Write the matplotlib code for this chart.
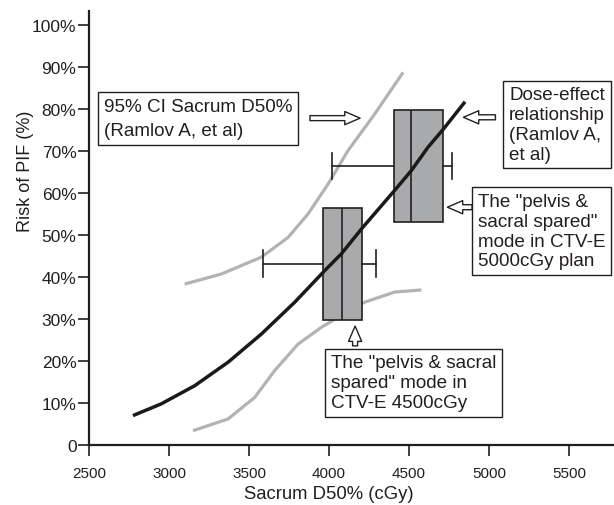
import matplotlib
matplotlib.use("Agg")
import matplotlib.pyplot as plt

plt.rcParams['font.family'] = ['Liberation Sans', 'DejaVu Sans']

# Dose-effect curve (Ramlov A, et al)
dose_x = [2775, 2952, 3160, 3369, 3577, 3786, 3973, 4077, 4202, 4410, 4514, 4619, 4715, 4850]
dose_y = [7.0, 9.8, 14.1, 19.7, 26.4, 34.0, 41.5, 45.5, 51.4, 60.6, 65.3, 70.9, 75.2, 81.7]

# 95% CI upper bound
ci_hi_x = [3098, 3327, 3577, 3744, 3869, 3994, 4119, 4286, 4463]
ci_hi_y = [38.3, 40.7, 44.7, 49.4, 55.0, 62.1, 70.1, 78.8, 88.7]

# 95% CI lower bound
ci_lo_x = [3150, 3369, 3535, 3660, 3806, 3952, 4056, 4223, 4410, 4577]
ci_lo_y = [3.4, 6.2, 11.3, 17.7, 24.0, 28.0, 30.4, 34.0, 36.4, 36.9]

# box plots of sacrum D50% (4500cGy plan, 5000cGy plan)
box_labels = ["4500cGy", "5000cGy"]
box_whislo = [3585, 4016]
box_q1 = [3965, 4406]
box_med = [4079, 4513]
box_q3 = [4204, 4715]
box_whishi = [4294, 4771]
box_risk = [43.1, 66.4]   # vertical centre of each box (%)
box_height = [26.6, 26.8]

x_ticks = [2500, 3000, 3500, 4000, 4500, 5000, 5500]
y_ticks = [0, 10, 20, 30, 40, 50, 60, 70, 80, 90, 100]
y_ticklabels = ["0", "10%", "20%", "30%", "40%", "50%", "60%", "70%", "80%", "90%", "100%"]

txt_col = '#231f20'

fig = plt.figure(figsize=(6.14, 5.06), dpi=100)
ax = fig.add_axes([89 / 614, 60 / 506, 525 / 614, 434 / 506])

ax.plot(ci_hi_x, ci_hi_y, color='#b3b3b3', lw=2.3, zorder=1,
        solid_capstyle='butt', solid_joinstyle='round')
ax.plot(ci_lo_x, ci_lo_y, color='#b3b3b3', lw=2.3, zorder=1,
        solid_capstyle='butt', solid_joinstyle='round')

stats = []
for i in range(len(box_labels)):
    stats.append({'label': box_labels[i], 'whislo': box_whislo[i], 'q1': box_q1[i],
                  'med': box_med[i], 'q3': box_q3[i], 'whishi': box_whishi[i]})
ax.bxp(stats, positions=box_risk, widths=box_height, capwidths=[6.4, 6.4],
       orientation='horizontal', patch_artist=True, showfliers=False, manage_ticks=False,
       boxprops=dict(facecolor='#a9aaac', edgecolor=txt_col, lw=1.2),
       medianprops=dict(color=txt_col, lw=1.2),
       whiskerprops=dict(color=txt_col, lw=1.2),
       capprops=dict(color=txt_col, lw=1.2), zorder=2)

ax.plot(dose_x, dose_y, color='#1a1a1a', lw=2.5, zorder=3,
        solid_capstyle='butt', solid_joinstyle='round')

# hollow arrows
arrow_style = 'simple,head_length=1.1,head_width=0.95,tail_width=0.36'
arrows = [((4194, 77.8), (3881, 77.8)),
          ((4840, 78.0), (5040, 78.0)),
          ((4740, 56.6), (4894, 56.6)),
          ((4163, 28.3), (4163, 23.6))]
for tip, tail in arrows:
    ax.annotate('', xy=tip, xytext=tail,
                arrowprops=dict(arrowstyle=arrow_style, fc='white', ec=txt_col, lw=1,
                                shrinkA=0, shrinkB=0, mutation_scale=10), zorder=4)

# text boxes
box_kw = dict(boxstyle='square,pad=0.3', fc='white', ec=txt_col, lw=1)
ax.text(2594, 82.6, "95% CI Sacrum D50%\n(Ramlov A, et al)", ha='left', va='top',
        fontsize=13.6, color=txt_col, linespacing=1.55, bbox=box_kw, zorder=5)
ax.text(5125, 85.4, "Dose-effect\nrelationship\n(Ramlov A,\net al)", ha='left', va='top',
        fontsize=13.6, color=txt_col, linespacing=1.22, bbox=box_kw, zorder=5)
ax.text(4931, 60.0, "The \"pelvis &\nsacral spared\"\nmode in CTV-E\n5000cGy plan", ha='left',
        va='top', fontsize=13.6, color=txt_col, linespacing=1.22, bbox=box_kw, zorder=5)
ax.text(4013, 21.6, "The \"pelvis & sacral\nspared\" mode in\nCTV-E 4500cGy", ha='left',
        va='top', fontsize=13.6, color=txt_col, linespacing=1.22, bbox=box_kw, zorder=5)

ax.set_xlim(2500, 5781)
ax.set_ylim(0, 103.3)
ax.set_xticks(x_ticks)
ax.set_yticks(y_ticks)
ax.set_yticklabels(y_ticklabels)
ax.tick_params(axis='x', direction='out', length=8, width=1.2, pad=7, labelsize=11,
               colors=txt_col)
ax.tick_params(axis='y', direction='out', length=8, width=1.2, pad=1, labelsize=12.5,
               colors=txt_col)
for s in ['top', 'right']:
    ax.spines[s].set_visible(False)
for s in ['left', 'bottom']:
    ax.spines[s].set_linewidth(1.6)
    ax.spines[s].set_color(txt_col)

ax.set_xlabel("Sacrum D50% (cGy)", fontsize=13.3, color=txt_col)
ax.xaxis.set_label_coords(0.457, -0.092)
ax.set_ylabel("Risk of PIF (%)", fontsize=13, color=txt_col)
ax.yaxis.set_label_coords(-0.105, 0.634)

fig.savefig("out.png", dpi=100)
